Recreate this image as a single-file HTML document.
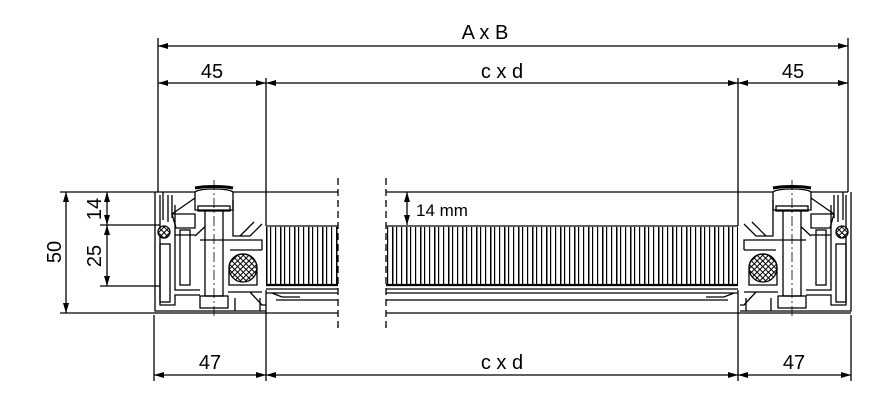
<!DOCTYPE html>
<html><head><meta charset="utf-8"><style>
html,body{margin:0;padding:0;background:#fff;}
svg{display:block;}
text{font-family:"Liberation Sans",Arial,sans-serif;fill:#000;}
</style></head><body>
<svg width="877" height="407" viewBox="0 0 877 407" xmlns="http://www.w3.org/2000/svg">
<defs>
<marker id="a" viewBox="0 0 10 6" refX="10" refY="3" markerWidth="11" markerHeight="6" orient="auto-start-reverse" markerUnits="userSpaceOnUse"><path d="M0,0 L10,3 L0,6 Z" fill="#000"/></marker>
<pattern id="slat" x="266" y="0" width="14" height="10" patternUnits="userSpaceOnUse">
<rect x="0" y="0" width="1.5" height="10" fill="#000"/><rect x="4" y="0" width="1.2" height="10" fill="#000"/><rect x="9" y="0" width="1.2" height="10" fill="#000"/>
</pattern>
<pattern id="hatch" width="4" height="4" patternUnits="userSpaceOnUse" patternTransform="rotate(45)">
<rect width="4" height="4" fill="#fff"/><rect width="1" height="4" fill="#000"/><rect width="4" height="1" fill="#000"/>
</pattern>
</defs>
<g stroke="#000" stroke-width="1.3" fill="none">
<line x1="158" y1="46" x2="848" y2="46" marker-start="url(#a)" marker-end="url(#a)"/>
<line x1="158" y1="83" x2="266" y2="83" marker-start="url(#a)" marker-end="url(#a)"/>
<line x1="266" y1="83" x2="738" y2="83" marker-start="url(#a)" marker-end="url(#a)"/>
<line x1="738" y1="83" x2="848" y2="83" marker-start="url(#a)" marker-end="url(#a)"/>
<line x1="154" y1="375" x2="266" y2="375" marker-start="url(#a)" marker-end="url(#a)"/>
<line x1="266" y1="375" x2="738" y2="375" marker-start="url(#a)" marker-end="url(#a)"/>
<line x1="738" y1="375" x2="851" y2="375" marker-start="url(#a)" marker-end="url(#a)"/>
<line x1="66" y1="192" x2="66" y2="313" marker-start="url(#a)" marker-end="url(#a)"/>
<line x1="107" y1="192" x2="107" y2="225" marker-start="url(#a)" marker-end="url(#a)"/>
<line x1="107" y1="225" x2="107" y2="286" marker-start="url(#a)" marker-end="url(#a)"/>
<line x1="407" y1="192" x2="407" y2="225" marker-start="url(#a)" marker-end="url(#a)"/>
<line x1="158" y1="38" x2="158" y2="192"/>
<line x1="848" y1="38" x2="848" y2="192"/>
<line x1="266" y1="78" x2="266" y2="226"/>
<line x1="738" y1="78" x2="738" y2="226"/>
<line x1="154" y1="315" x2="154" y2="381"/>
<line x1="851" y1="315" x2="851" y2="381"/>
<line x1="266" y1="290" x2="266" y2="381"/>
<line x1="738" y1="290" x2="738" y2="381"/>
<line x1="60" y1="192" x2="158" y2="192"/>
<line x1="60" y1="313" x2="156" y2="313"/>
<line x1="100" y1="225" x2="160" y2="225"/>
<line x1="100" y1="286" x2="160" y2="286"/>
<line x1="338" y1="178" x2="338" y2="330" stroke-dasharray="7,4"/>
<line x1="386" y1="178" x2="386" y2="330" stroke-dasharray="7,4"/>
<path d="M158,192 H338 M386,192 H848"/>
<path d="M266,226 H338 M386,226 H738"/>
<path d="M266,285 H338 M386,285 H738" stroke-width="2.2"/>
<path d="M266,289 H338 M386,289 H738 M266,293 H338 M386,293 H738 M276,300 H338 M386,300 H728 M155,313 H338 M386,313 H851"/>
</g>
<rect x="266" y="227" width="72" height="57" fill="url(#slat)" shape-rendering="crispEdges"/>
<rect x="386" y="227" width="352" height="57" fill="url(#slat)" shape-rendering="crispEdges"/>
<g id="fr" stroke="#000" stroke-width="1.3" fill="none">
<path d="M155,192 V311 H266"/>
<path d="M160,195 V305 H175 V295 H200"/>
<path d="M163,192 V220 M168,195 V222 M172,195 V218"/>
<rect x="160" y="244" width="10" height="58"/>
<rect x="180" y="230" width="10" height="55"/>
<path d="M175,205 V235 H195 M175,230 V290 H200"/>
<path d="M172,214 L195,198 M195,236 L210,222"/>
<path d="M172,214 H195 V228 H176 Z" />
<path d="M195,192 C200,188 228,188 233,192 V210 H195 Z" fill="#fff"/>
<path d="M195,188 C205,186 223,186 233,188" stroke-width="3"/>
<rect x="198" y="206" width="32" height="5"/>
<rect x="205" y="211" width="18" height="85" fill="#fff"/>
<rect x="200" y="296" width="28" height="12"/>
<path d="M233,200 V236 H250 L262,224 M240,236 L254,222"/>
<path d="M200,240 H262 V250 M230,250 H262"/>
<path d="M228,292 H262 M235,298 V311 M260,298 V311 M250,292 L262,305 H266"/>
<circle cx="243" cy="268" r="14" fill="url(#hatch)"/>
<path d="M229,268 A14,14 0 0 1 257,268 V285 H229 Z"/>
<circle cx="164" cy="232" r="6" fill="url(#hatch)"/>
<path d="M272,293 L282,297 H300" />
<line x1="214" y1="180" x2="214" y2="318" stroke-dasharray="10,3,2,3" stroke-width="0.8"/>
</g>
<use href="#fr" transform="translate(1006,0) scale(-1,1)"/>
<text x="485" y="39" font-size="20" text-anchor="middle">A x B</text>
<text x="212" y="78" font-size="20" text-anchor="middle">45</text>
<text x="502" y="78" font-size="20" text-anchor="middle">c x d</text>
<text x="793" y="78" font-size="20" text-anchor="middle">45</text>
<text x="210" y="369" font-size="20" text-anchor="middle">47</text>
<text x="502" y="369" font-size="20" text-anchor="middle">c x d</text>
<text x="794" y="369" font-size="20" text-anchor="middle">47</text>
<text x="416" y="216" font-size="17">14 mm</text>
<text transform="translate(61,252) rotate(-90)" font-size="20" text-anchor="middle">50</text>
<text transform="translate(101,209) rotate(-90)" font-size="20" text-anchor="middle">14</text>
<text transform="translate(101,256) rotate(-90)" font-size="20" text-anchor="middle">25</text>
</svg>
</body></html>
